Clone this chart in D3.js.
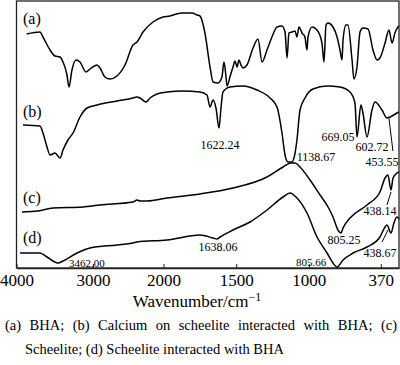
<!DOCTYPE html>
<html><head><meta charset="utf-8">
<script src="https://cdn.jsdelivr.net/npm/d3@7"></script>
<style>html,body{margin:0;padding:0;background:#fff}svg{display:block}</style>
</head><body>
<svg id="chart" width="400" height="365"></svg>
<script>
// Wavenumber (cm^-1) and relative transmittance (arbitrary, stacked) for each spectrum
const waveA = [3867,3693,3654,3562,3497,3431,3392,3340,3314,3275,3222,3170,3092,3039,2943,2901,2830,2759,2660,2546,2433,2376,2291,2149,2007,1955,1935,1873,1838,1804,1770,1749,1715,1680,1659,1625,1598,1584,1570,1563,1543,1522,1508,1494,1481,1467,1453,1426,1384,1350,1322,1288,1254,1219,1185,1164,1150,1137,1116,1095,1082,1068,1047,1027,1013,1006,978,944,910,896,882,868,834,806,786,772,765,745,731,703,690,669,648,628,593,559,531,511,476,449,428,408,387,380];
const valA  = [233,235,230,217,211,210,205,192,180,197,207,205,195,198,202,199,190,188,191,202,222,225,235,245,250,251,252,254,254,254,252,251,234,200,185,184,190,205,190,181,190,200,206,200,207,202,199,202,219,228,205,217,230,240,241,235,209,234,235,236,230,240,234,230,217,230,240,237,224,205,242,244,240,230,217,207,227,242,242,207,188,200,235,239,238,217,207,209,224,237,224,234,240,241];

const waveB = [3915,3693,3654,3601,3562,3497,3431,3392,3327,3261,3170,3078,2943,2660,2433,2376,2333,2248,2191,2092,1976,1866,1749,1701,1680,1659,1639,1618,1604,1591,1543,1453,1357,1267,1219,1185,1164,1144,1116,1095,1082,1061,1027,972,875,786,717,683,669,642,628,600,566,545,497,463,442,394,380];
const valB  = [142,141,134,120,112,114,109,117,127,134,150,159,162,166,169,170,169,165,169,173,175,176,175,172,160,167,159,139,160,175,180,181,177,169,160,134,112,105,105,114,127,157,169,178,181,180,175,164,130,162,154,130,157,165,157,149,150,154,155];

const waveC = [3928,3719,3523,3131,2901,2433,2376,2333,2234,1976,1749,1522,1288,1178,1123,1095,1061,992,923,868,834,800,779,765,717,600,511,476,456,435,421,394,380];
const valC  = [55,56,59,60,62,65,67,66,66,69,73,79,90,100,104,104,100,87,72,60,50,37,34,39,49,62,75,89,92,77,89,94,95];

const waveD = [3954,3693,3601,3458,3392,3209,3039,2660,2433,2376,1976,1749,1659,1632,1611,1522,1405,1288,1178,1130,1082,1013,944,875,834,806,765,696,600,511,476,463,435,415,394,380];
const valD  = [14,14,10,4,6,14,19,22,24,25,27,32,29,28,30,37,45,57,70,74,69,54,30,14,4,0,7,14,20,30,40,42,34,44,50,48];

const seriesNames = ["(a)","(b)","(c)","(d)"];

// x axis: tick positions (cm^-1) and their printed labels
const tickValues = [4000,3000,2000,1500,1000,505];
const tickLabels = ["4000","3000","2000","1500","1000","370"];

// peak annotations: label, curve, wavenumber
const peakLabels = ["1622.24","1138.67","669.05","602.72","453.55","438.14","805.25","438.67","1638.06","805.66","3462.00"];
const peakCurve  = ["b","b","b","b","b","c","c","d","d","d","d"];
const peakWave   = [1618,1130,669,600,463,435,779,435,1632,806,3458];

const captionLines = ["(a) BHA; (b) Calcium on scheelite interacted with BHA; (c)",
                      "Scheelite; (d) Scheelite interacted with BHA"];

const svg = d3.select("#chart");
const L = 16.5, R = 399, T = 1, B = 268;

const x = d3.scaleLinear().domain([4000,3000,2000,380]).range([L,93,163.5,R]);
const y = d3.scaleLinear().domain([0,266]).range([267,1]);

const serif = "Liberation Serif, Times New Roman, serif";

// frame
svg.append("rect").attr("x",L).attr("y",T).attr("width",R-L).attr("height",B-T)
  .attr("fill","none").attr("stroke","#222").attr("stroke-width",1.3);

// bottom axis (ticks pointing inward)
const axis = d3.axisBottom(x).tickValues(tickValues)
  .tickFormat((d,i)=>tickLabels[i]).tickSizeInner(-4).tickSizeOuter(0).tickPadding(8);
const gA = svg.append("g").attr("transform",`translate(0,${B})`).call(axis);
gA.attr("font-family",serif);
gA.select(".domain").attr("stroke","#222").attr("stroke-width",1.3);
gA.selectAll(".tick line").attr("stroke","#222");
gA.selectAll(".tick text").attr("font-family",serif).attr("font-size",17).attr("fill","#000").attr("dy","0.6em");

// curves
const sets = {a:[waveA,valA], b:[waveB,valB], c:[waveC,valC], d:[waveD,valD]};
const line = d3.line().x(d=>x(d[0])).y(d=>y(d[1])).curve(d3.curveMonotoneX);
Object.keys(sets).forEach(k=>{
  const [w,v] = sets[k];
  const pts = w.map((d,i)=>[d,v[i]]);
  svg.append("path").datum(pts).attr("d",line).attr("fill","none")
    .attr("stroke","#000").attr("stroke-width",1.5).attr("stroke-linejoin","round");
});

// series labels
const labelPos = [[23,24],[23,117],[23,203],[23,243]];
seriesNames.forEach((s,i)=>{
  svg.append("text").attr("x",labelPos[i][0]).attr("y",labelPos[i][1])
    .attr("font-family",serif).attr("font-size",16).text(s);
});

// peak annotation placement (label centre & baseline offsets from the point)
const interp = (k,w)=>{ const [ws,vs]=sets[k]; for(let i=0;i<ws.length-1;i++){ if(w<=ws[i]&&w>=ws[i+1]){const t=(ws[i]-w)/(ws[i]-ws[i+1]);return vs[i]+t*(vs[i+1]-vs[i]);} } return vs[vs.length-1]; };
const offs = [[1,21,12],[26,-1,12],[-19,4,12],[5,14,12],[-5,48,12],[-11,25,12],[3,11,12],[-11,24,12],[1,12,12],[-26,-1,11],[29,4,11]];
const leaders = {4:[[2,0],[6,33]], 5:[[0,2],[-4,15]], 7:[[-3,-3],[-9,9]]};
peakLabels.forEach((lab,i)=>{
  const px = x(peakWave[i]), py = y(interp(peakCurve[i],peakWave[i]));
  svg.append("text").attr("x",px+offs[i][0]).attr("y",py+offs[i][1])
    .attr("text-anchor","middle").attr("font-family",serif).attr("font-size",offs[i][2]).text(lab);
  if(leaders[i]){
    const l = leaders[i];
    svg.append("line").attr("x1",px+l[0][0]).attr("y1",py+l[0][1]).attr("x2",px+l[1][0]).attr("y2",py+l[1][1])
      .attr("stroke","#000").attr("stroke-width",1);
  }
});

// axis title
const title = svg.append("text").attr("x",197).attr("y",307).attr("text-anchor","middle")
  .attr("font-family",serif).attr("font-size",17);
title.append("tspan").text("Wavenumber/cm");
title.append("tspan").attr("dy",-6).attr("font-size",12).text("\u22121");

// caption (first line justified by widening word gaps)
const cap1 = svg.append("text").attr("x",5).attr("y",330).attr("font-family",serif).attr("font-size",14.5)
  .text(captionLines[0]);
const nat = cap1.node().getComputedTextLength();
const gaps = captionLines[0].split(" ").length - 1;
cap1.attr("word-spacing", Math.max(0,(392-nat)/gaps));
svg.append("text").attr("x",25).attr("y",354).attr("font-family",serif).attr("font-size",14.5)
  .text(captionLines[1]);
</script>
</body></html>
